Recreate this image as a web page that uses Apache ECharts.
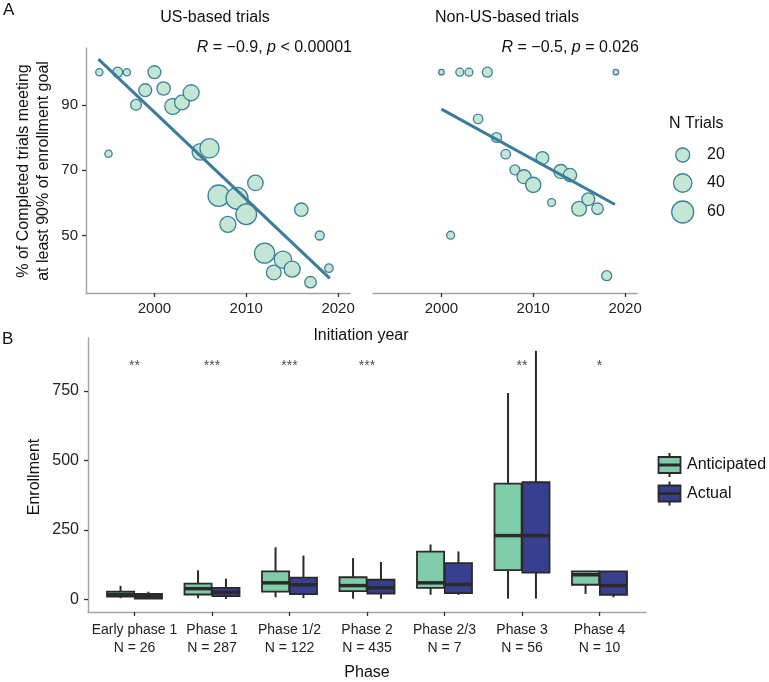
<!DOCTYPE html>
<html>
<head>
<meta charset="utf-8">
<script src="https://cdn.jsdelivr.net/npm/echarts@6/dist/echarts.min.js"></script>
<style>html,body{margin:0;padding:0;background:#fff}#c{width:769px;height:682px}</style>
</head>
<body>
<div id="c"></div>
<script>
// ---------- Panel A data ----------
const usYears = [1994,1996,1997,1995,1998,1999,2000,2001,2002,2003,2004,2005,2006,2007,2009,2008,2010,2011,2012,2013,2014,2015,2016,2017,2018,2019];
const usPct   = [100,100,100,75,90,94.5,100,95,89.5,90.7,93.7,75.6,76.7,62.2,61.4,53.4,56.5,66.1,44.6,38.7,42.6,39.7,57.9,35.7,50,40];
const usN     = [3,8,3,3,10,16,16,18,28,23,28,30,44,56,60,28,52,26,49,23,34,28,18,12,6,5];

const nonUsYears = [2000,2001,2002,2003,2004,2005,2006,2007,2008,2009,2010,2011,2012,2013,2014,2015,2016,2017,2018,2019];
const nonUsPct   = [100,50.1,100,100,85.7,100,80,74.9,70.1,68,65.5,73.7,60.1,69.6,68.5,58.2,61.1,58.2,37.7,100];
const nonUsN     = [1,4,4,4,7,8,8,7,8,20,25,16,4,20,18,23,16,12,8,1];

const usFitYears = [1993.9, 2019.1];
const usFitPct   = [104, 36.9];
const nonUsFitYears = [2000, 2018.9];
const nonUsFitPct   = [88.7, 59.5];

const yearTicks = [2000, 2010, 2020];
const pctTicks  = [50, 70, 90];
const sizeLegendValues = [20, 40, 60];

// ---------- Panel B data ----------
const phases = ['Early phase 1','Phase 1','Phase 1/2','Phase 2','Phase 2/3','Phase 3','Phase 4'];
const phaseN = [26,287,122,435,7,56,10];
// [min, q1, median, q3, max]
const anticipatedStats = [[5,10,18,28,49],[5,18,39,57,105],[8,28,60,101,188],[3,30,50,80,149],[17,42,60,172,198],[3,106,230,417,743],[20,53,89,101,101]];
const actualStats      = [[2,3,12,20,28],[2,12,26,42,75],[5,19,53,79,158],[3,21,42,71,135],[17,23,54,131,173],[3,97,230,422,895],[8,17,50,101,101]];
const sigLabels = ['**','***','***','***','','**','*'];
const sigLevel = 840;
const enrollTicks = [0, 250, 500, 750];

// ---------- styles ----------
const FONT = 'Liberation Sans, Arial, Helvetica, sans-serif';
const ptFill = '#c4e6d4', ptStroke = '#3f8099', fitColor = '#3a7c99';
const antColor = '#80cba8', actColor = '#383f8e', boxStroke = '#2a2a2a';
const axisLineStyle = {color:'#a3a3a3', width:1.4};
const tickStyle = {color:'#333', width:1.3};

function bubbleSize(n){ return 3 + 2.45*Math.sqrt(n); }
const zip = (a,b,c) => a.map((v,i)=> c ? [v,b[i],c[i]] : [v,b[i]]);

const chart = echarts.init(document.getElementById('c'), null, {renderer:'canvas'});

const boxWidth = 0.35, dodge = 0.18;
function boxRender(offset, fill){
  return function(params, api){
    const x = api.value(0) + offset;
    const w = api.size([boxWidth, 0])[0];
    const pMin = api.coord([x, api.value(1)]);
    const pQ1  = api.coord([x, api.value(2)]);
    const pMed = api.coord([x, api.value(3)]);
    const pQ3  = api.coord([x, api.value(4)]);
    const pMax = api.coord([x, api.value(5)]);
    const cx = pMed[0];
    return {type:'group', children:[
      {type:'line', shape:{x1:cx,y1:pMax[1],x2:cx,y2:pQ3[1]}, style:{stroke:boxStroke,lineWidth:2}},
      {type:'line', shape:{x1:cx,y1:pQ1[1],x2:cx,y2:pMin[1]}, style:{stroke:boxStroke,lineWidth:2}},
      {type:'rect', shape:{x:cx-w/2,y:pQ3[1],width:w,height:pQ1[1]-pQ3[1]}, style:{fill:fill,stroke:boxStroke,lineWidth:1.8}},
      {type:'line', shape:{x1:cx-w/2,y1:pMed[1],x2:cx+w/2,y2:pMed[1]}, style:{stroke:boxStroke,lineWidth:3.5}}
    ]};
  };
}

const graphics = [
  {type:'text', left:3, top:2, style:{text:'A', font:'17px '+FONT, fill:'#111'}},
  {type:'text', left:2, top:331, style:{text:'B', font:'17px '+FONT, fill:'#111'}},
  {type:'text', x:215, y:18, style:{text:'US-based trials', font:'16px '+FONT, fill:'#111', align:'center', verticalAlign:'middle'}},
  {type:'text', x:507, y:18, style:{text:'Non-US-based trials', font:'16px '+FONT, fill:'#111', align:'center', verticalAlign:'middle'}},
  {type:'text', x:352, y:48, style:{text:'{i|R} = \u22120.9, {i|p} < 0.00001', align:'right', verticalAlign:'middle',
      rich:{i:{fontStyle:'italic', fontSize:16, fontFamily:FONT, fill:'#111'}}, font:'16px '+FONT, fill:'#111'}},
  {type:'text', x:639, y:48, style:{text:'{i|R} = \u22120.5, {i|p} = 0.026', align:'right', verticalAlign:'middle',
      rich:{i:{fontStyle:'italic', fontSize:16, fontFamily:FONT, fill:'#111'}}, font:'16px '+FONT, fill:'#111'}},
  {type:'text', x:24, y:171, rotation:Math.PI/2, style:{text:'% of Completed trials meeting', font:'16px '+FONT, fill:'#111', align:'center', verticalAlign:'middle'}},
  {type:'text', x:44, y:171, rotation:Math.PI/2, style:{text:'at least 90% of enrollment goal', font:'16px '+FONT, fill:'#111', align:'center', verticalAlign:'middle'}},
  {type:'text', x:361, y:336, style:{text:'Initiation year', font:'16px '+FONT, fill:'#111', align:'center', verticalAlign:'middle'}},
  {type:'text', x:35, y:477, rotation:Math.PI/2, style:{text:'Enrollment', font:'16px '+FONT, fill:'#111', align:'center', verticalAlign:'middle'}},
  {type:'text', x:367, y:673, style:{text:'Phase', font:'16px '+FONT, fill:'#111', align:'center', verticalAlign:'middle'}},
  {type:'text', x:669, y:124, style:{text:'N Trials', font:'16px '+FONT, fill:'#111', align:'left', verticalAlign:'middle'}}
];
const legendYs = [155, 183, 212];
sizeLegendValues.forEach((v,i)=>{
  graphics.push({type:'circle', shape:{cx:682.7, cy:legendYs[i], r:bubbleSize(v)/2}, style:{fill:ptFill, stroke:ptStroke, lineWidth:1.3}});
  graphics.push({type:'text', x:707, y:legendYs[i], style:{text:String(v), font:'16px '+FONT, fill:'#111', align:'left', verticalAlign:'middle'}});
});
[['Anticipated', antColor, 465], ['Actual', actColor, 493.5]].forEach(([name, col, cy])=>{
  graphics.push({type:'line', shape:{x1:669.5,y1:cy-12,x2:669.5,y2:cy+12}, style:{stroke:boxStroke, lineWidth:2}});
  graphics.push({type:'rect', shape:{x:658.5,y:cy-8,width:22,height:16}, style:{fill:col, stroke:boxStroke, lineWidth:1.8}});
  graphics.push({type:'line', shape:{x1:658.5,y1:cy,x2:680.5,y2:cy}, style:{stroke:boxStroke, lineWidth:3}});
  graphics.push({type:'text', x:687, y:cy, style:{text:name, font:'16px '+FONT, fill:'#111', align:'left', verticalAlign:'middle'}});
});

const yearAxis = (gi) => ({
  type:'value', gridIndex:gi, min:1992.55, max:2021.3,
  axisLine:{show:true, onZero:false, lineStyle:axisLineStyle},
  axisTick:{show:true, customValues:yearTicks, length:4, lineStyle:tickStyle},
  axisLabel:{customValues:yearTicks, fontSize:15, fontFamily:FONT, color:'#222', margin:8, formatter:(v)=>String(Math.round(v))},
  splitLine:{show:false}
});

const option = {
  animation:false,
  backgroundColor:'#fff',
  textStyle:{fontFamily:FONT},
  graphic:graphics,
  grid:[
    {left:86, top:48, width:264, height:245},
    {left:373, top:48, width:264, height:245},
    {left:88, top:338, width:558, height:274}
  ],
  xAxis:[
    yearAxis(0), yearAxis(1),
    {type:'value', gridIndex:2, min:-0.6, max:6.6,
     axisLine:{show:true, onZero:false, lineStyle:axisLineStyle},
     axisTick:{show:true, customValues:phases.map((p,i)=>i), length:4, lineStyle:tickStyle},
     axisLabel:{customValues:phases.map((p,i)=>i), fontSize:14, fontFamily:FONT, color:'#222', margin:9, lineHeight:18,
       formatter:(v)=> phases[Math.round(v)] + '\nN = ' + phaseN[Math.round(v)]},
     splitLine:{show:false}}
  ],
  yAxis:[
    {type:'value', gridIndex:0, min:32.4, max:107.4,
     axisLine:{show:true, onZero:false, lineStyle:axisLineStyle},
     axisTick:{show:true, customValues:pctTicks, length:4, lineStyle:tickStyle},
     axisLabel:{customValues:pctTicks, fontSize:15, fontFamily:FONT, color:'#222', margin:8},
     splitLine:{show:false}},
    {type:'value', gridIndex:1, min:32.4, max:107.4, axisLine:{show:false}, axisTick:{show:false}, axisLabel:{show:false}, splitLine:{show:false}},
    {type:'value', gridIndex:2, min:-45, max:941,
     axisLine:{show:true, onZero:false, lineStyle:axisLineStyle},
     axisTick:{show:true, customValues:enrollTicks, length:4, lineStyle:tickStyle},
     axisLabel:{customValues:enrollTicks, fontSize:16, fontFamily:FONT, color:'#222', margin:9},
     splitLine:{show:false}}
  ],
  series:[
    {type:'scatter', xAxisIndex:0, yAxisIndex:0, data:zip(usYears, usPct, usN),
     symbolSize:(v)=>bubbleSize(v[2]), itemStyle:{color:ptFill, borderColor:ptStroke, borderWidth:1.3, opacity:1}, z:2},
    {type:'scatter', xAxisIndex:1, yAxisIndex:1, data:zip(nonUsYears, nonUsPct, nonUsN),
     symbolSize:(v)=>bubbleSize(v[2]), itemStyle:{color:ptFill, borderColor:ptStroke, borderWidth:1.3, opacity:1}, z:2},
    {type:'line', xAxisIndex:0, yAxisIndex:0, data:zip(usFitYears, usFitPct), symbol:'none',
     lineStyle:{color:fitColor, width:3}, z:5},
    {type:'line', xAxisIndex:1, yAxisIndex:1, data:zip(nonUsFitYears, nonUsFitPct), symbol:'none',
     lineStyle:{color:fitColor, width:3}, z:5},
    {type:'custom', xAxisIndex:2, yAxisIndex:2, renderItem:boxRender(-dodge, antColor),
     encode:{x:0, y:[1,2,3,4,5]}, data:anticipatedStats.map((s,i)=>[i, ...s])},
    {type:'custom', xAxisIndex:2, yAxisIndex:2, renderItem:boxRender(dodge, actColor),
     encode:{x:0, y:[1,2,3,4,5]}, data:actualStats.map((s,i)=>[i, ...s])},
    {type:'scatter', xAxisIndex:2, yAxisIndex:2, symbolSize:0, silent:true,
     data:sigLabels.map((s,i)=>[i, sigLevel, s]),
     label:{show:true, position:'inside', formatter:(p)=>p.data[2], fontSize:14, fontFamily:FONT, color:'#222'}}
  ]
};
chart.setOption(option);
</script>
</body>
</html>
